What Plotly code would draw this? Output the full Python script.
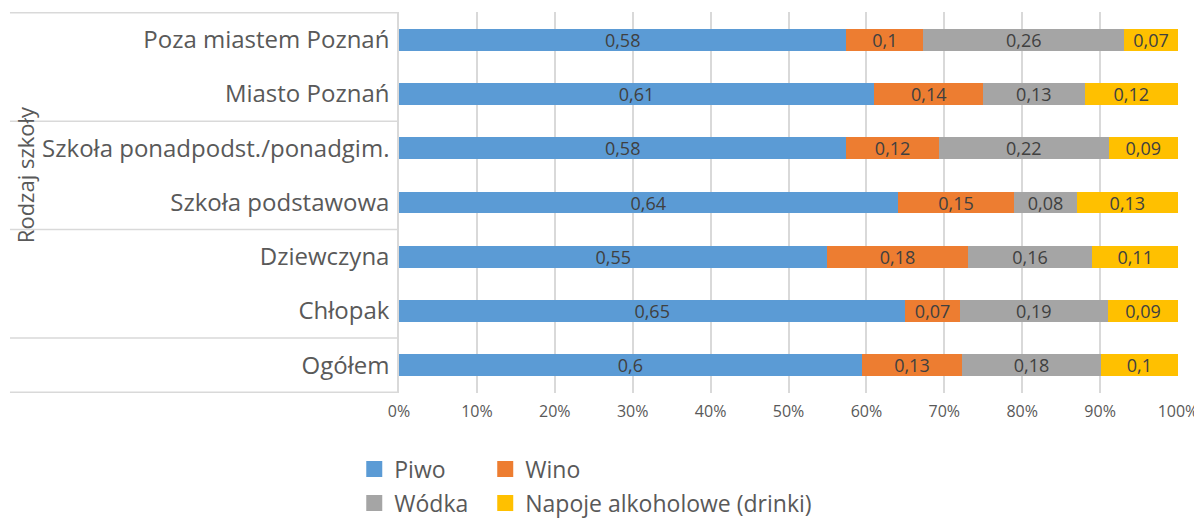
import plotly.graph_objects as go

# categories listed bottom -> top, as plotly draws them
categories = ['Ogółem', 'Chłopak', 'Dziewczyna', 'Szkoła podstawowa',
              'Szkoła ponadpodst./ponadgim.', 'Miasto Poznań', 'Poza miastem Poznań']

piwo = [0.6, 0.65, 0.55, 0.64, 0.58, 0.61, 0.58]
wino = [0.13, 0.07, 0.18, 0.15, 0.12, 0.14, 0.1]
wodka = [0.18, 0.19, 0.16, 0.08, 0.22, 0.13, 0.26]
napoje = [0.1, 0.09, 0.11, 0.13, 0.09, 0.12, 0.07]

series = [
    ('Piwo', piwo, '#5B9BD5'),
    ('Wino', wino, '#ED7D31'),
    ('Wódka', wodka, '#A5A5A5'),
    ('Napoje alkoholowe (drinki)', napoje, '#FFC000'),
]

FONT = 'Open Sans'
GREY = '#595959'

fig = go.Figure()
legend_ids = ['legend', 'legend2', 'legend3', 'legend4']
for (name, vals, color), leg in zip(series, legend_ids):
    fig.add_trace(go.Bar(
        y=categories, x=vals, name=name, orientation='h',
        marker=dict(color=color, line_width=0),
        text=[str(v).replace('.', ',') for v in vals],
        textposition='inside', insidetextanchor='middle',
        constraintext='none',
        textfont=dict(family=FONT, size=18, color='#404040'),
        textangle=0, showlegend=False,
    ))
    # legend-only marker so the swatch is a bigger square
    fig.add_trace(go.Scatter(
        x=[None], y=[None], mode='markers', name=name, legend=leg,
        marker=dict(symbol='square', size=16, color=color),
    ))

# group separator lines on the category axis (Excel style)
for yb in [-0.5, 0.5, 2.5, 4.5, 6.5]:
    fig.add_shape(type='line', xref='paper', yref='y',
                  x0=-0.4994, x1=0, y0=yb, y1=yb,
                  line=dict(color='#D9D9D9', width=1.5))

fig.add_annotation(text='Rodzaj szkoły', xref='paper', yref='paper',
                   x=-0.480, y=0.572, xanchor='center', yanchor='middle',
                   textangle=-90, showarrow=False,
                   font=dict(family=FONT, size=22, color=GREY))

legend_common = dict(orientation='h', xref='container', yref='container',
                     xanchor='left', yanchor='middle', bgcolor='rgba(0,0,0,0)',
                     itemsizing='trace',
                     font=dict(family=FONT, size=23, color=GREY),
                     itemclick=False)

# 2x2 legend grid: one legend per entry
col_x = [0.290, 0.3997]
row_y = [0.0996, 0.0330]

# page body has an 8px margin, so the figure is 8px smaller than the window
fig.update_layout(
    barmode='stack', barnorm='percent', bargap=0.6,
    width=1194, height=512,
    margin=dict(l=391, r=24, t=4, b=127, autoexpand=False),
    plot_bgcolor='white', paper_bgcolor='white',
    font=dict(family=FONT, color=GREY),
    legend=dict(x=col_x[0], y=row_y[0], **legend_common),
    legend2=dict(x=col_x[1], y=row_y[0], **legend_common),
    legend3=dict(x=col_x[0], y=row_y[1], **legend_common),
    legend4=dict(x=col_x[1], y=row_y[1], **legend_common),
    xaxis=dict(range=[0, 100], dtick=10, ticksuffix='%',
               showgrid=True, gridcolor='#D9D9D9', gridwidth=1.5,
               zeroline=False, showline=False, automargin=False,
               tickfont=dict(family=FONT, size=16, color=GREY),
               ticklabeloverflow='allow',
               ticklabelstandoff=7),
    yaxis=dict(showline=True, linecolor='#D9D9D9', linewidth=1.5,
               showgrid=False, ticks='', automargin=False,
               tickfont=dict(family=FONT, size=24, color=GREY),
               ticklabelstandoff=3),
)

fig.write_html('out.html')
